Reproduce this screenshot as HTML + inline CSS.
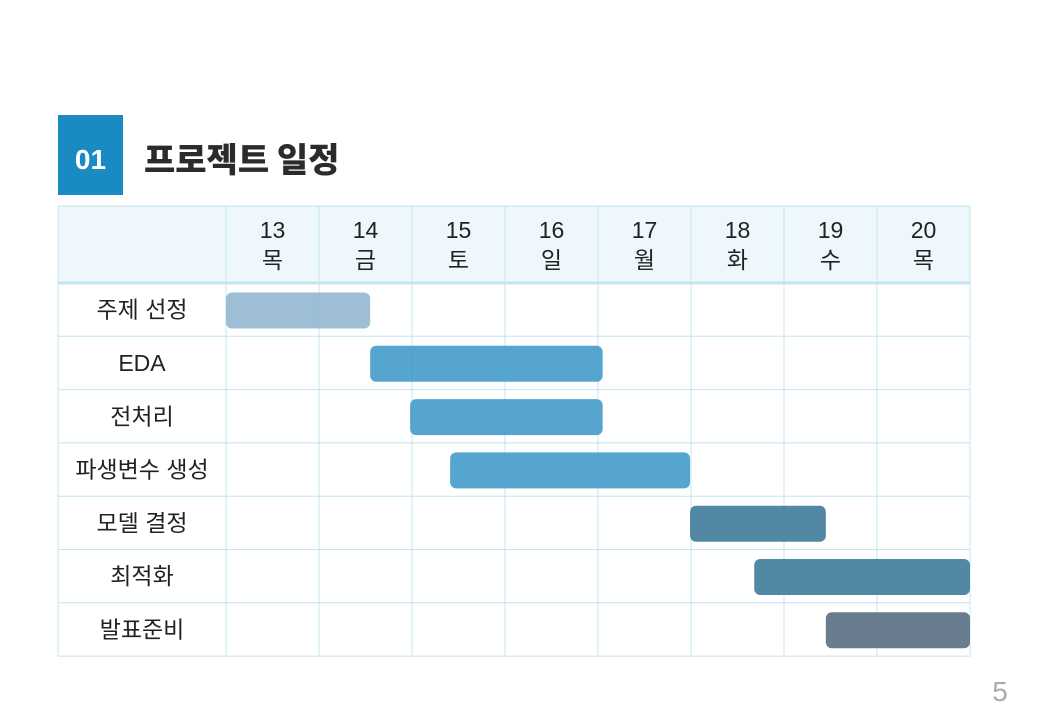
<!DOCTYPE html>
<html><head><meta charset="utf-8"><style>
body{margin:0;width:1040px;height:720px;background:#fff;overflow:hidden;font-family:"Liberation Sans","Noto Sans CJK KR",sans-serif}
</style></head><body>
<svg id="c" width="1040" height="720" xmlns="http://www.w3.org/2000/svg" style="position:absolute;left:0;top:0">
<rect x="58" y="115" width="65" height="80" fill="#1a8bc2"/>
<text x="90.5" y="169" font-size="28" font-weight="bold" fill="#fff" text-anchor="middle" font-family="Liberation Sans, sans-serif">01</text>
<text x="144" y="172" font-size="34" font-weight="900" fill="#2b2b2b" font-family="Noto Sans CJK KR, sans-serif">프로젝트 일정</text>
<rect x="58" y="206" width="912" height="77" fill="#eef8fc"/>
<text x="1000" y="701" font-size="28" fill="#aaa" text-anchor="middle" font-family="Liberation Sans, sans-serif">5</text>
</svg>
<script>
const days=["13","14","15","16","17","18","19","20"];
const weekdays=["목","금","토","일","월","화","수","목"];
const tasks=["주제 선정","EDA","전처리","파생변수 생성","모델 결정","최적화","발표준비"];
const starts=[0,1.55,1.98,2.41,4.99,5.68,6.45];
const ends=[1.55,4.05,4.05,4.99,6.45,8,8];
const colors=["#8fb5cf","#3e99c8","#3e99c8","#3e99c8","#3b7899","#3b7899","#556b80"];
const svgEl=document.getElementById('c');
const NS="http://www.w3.org/2000/svg";
const X0=226,DW=93,Y0=283,RH=53.3,L=58,R=970;
const xs=d=>X0+d*DW, ys=i=>Y0+i*RH;
function mk(t,a){const e=document.createElementNS(NS,t);for(const k in a)e.setAttribute(k,a[k]);svgEl.appendChild(e);return e;}
for(let i=0;i<=tasks.length;i++){const l=mk('line',{x1:L,x2:R,y1:ys(i),y2:ys(i),stroke:'#c3e4f1','stroke-width':i==0?3:1});

}
const topBorder=mk('line',{x1:L,x2:R,y1:206,y2:206,stroke:'#c3e4f1'});


[L].concat(days.map((d,i)=>xs(i)),[R]).forEach(x=>{const l=mk('line',{x1:x,x2:x,y1:206,y2:ys(tasks.length),stroke:'#c3e4f1'});

});
days.forEach((d,i)=>{const cx=xs(i)+DW/2;
const t=mk('text',{x:cx,y:238,'font-size':23,fill:'#222','text-anchor':'middle'});t.textContent=d;


const w=mk('text',{x:cx,y:268,'font-size':23,fill:'#222','text-anchor':'middle'});w.textContent=weekdays[i];

});
tasks.forEach((n,i)=>{const t=mk('text',{x:142,y:ys(i)+RH/2+8,'font-size':23,fill:'#222','text-anchor':'middle'});t.textContent=n;


const b=mk('rect',{x:xs(starts[i]),y:ys(i)+9.5,width:xs(ends[i])-xs(starts[i]),height:36,rx:6,fill:colors[i],'fill-opacity':0.88});

});
</script>
</body></html>
